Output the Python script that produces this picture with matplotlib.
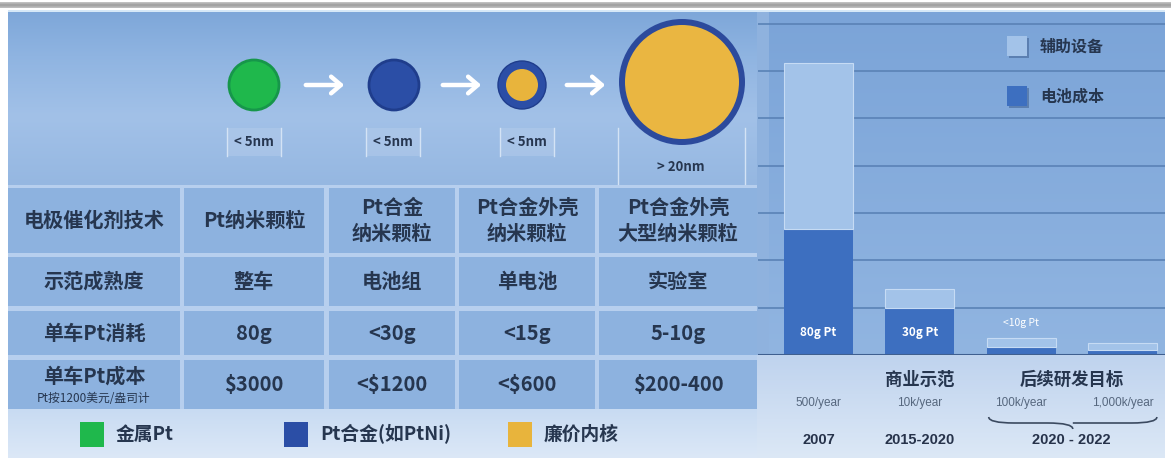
import numpy as np
import matplotlib
matplotlib.use("Agg")
import matplotlib.pyplot as plt
from matplotlib.patches import Rectangle, Circle, PathPatch, FancyArrowPatch
from matplotlib.path import Path
from matplotlib.colors import to_rgb
from matplotlib.transforms import blended_transform_factory

plt.rcParams['font.family'] = ['Noto Sans CJK SC', 'DejaVu Sans']

# ---- table content ----
row_headers = ["电极催化剂技术", "示范成熟度", "单车Pt消耗", "单车Pt成本"]
cost_note = "Pt按1200美元/盎司计"
tech_names = ["Pt纳米颗粒", "Pt合金\n纳米颗粒", "Pt合金外壳\n纳米颗粒", "Pt合金外壳\n大型纳米颗粒"]
maturity = ["整车", "电池组", "单电池", "实验室"]
pt_usage = ["80g", "<30g", "<15g", "5-10g"]
pt_cost = ["$3000", "<$1200", "<$600", "$200-400"]
particle_sizes = ["< 5nm", "< 5nm", "< 5nm", "> 20nm"]
legend_labels = ["金属Pt", "Pt合金(如PtNi)", "廉价内核"]

# ---- stacked cost bars ----
volumes = ["500/year", "10k/year", "100k/year", "1,000k/year"]
battery_cost = [80, 30, 5, 3]          # 电池成本 (g Pt scale)
aux_cost = [105, 12, 6, 4.5]           # 辅助设备
pt_bar_labels = ["80g Pt", "30g Pt", "<10g Pt", ""]
stage_labels = ["商业示范", "后续研发目标"]
period_labels = ["2007", "2015-2020", "2020 - 2022"]
bar_legend = ["辅助设备", "电池成本"]

TXT = "#26364f"
C_GREEN, C_BLUE, C_GOLD = "#1fb84c", "#2b4ea6", "#e8b43c"
C_DARKBAR, C_LIGHTBAR = "#3d6fc0", "#a3c3e9"

fig = plt.figure(figsize=(11.71, 4.63), dpi=100)
bg = fig.add_axes([0, 0, 1, 1])
bg.set_xlim(0, 1171)
bg.set_ylim(463, 0)
bg.set_autoscale_on(False)
bg.axis('off')


def vgrad(x0, x1, y0, y1, stops, z=0):
    t = np.linspace(0, 1, 256)
    pos = [p for p, _ in stops]
    cols = np.array([to_rgb(c) for _, c in stops])
    img = np.stack([np.interp(t, pos, cols[:, k]) for k in range(3)], axis=-1)[:, None, :]
    bg.imshow(img, extent=(x0, x1, y1, y0), aspect='auto', zorder=z,
              interpolation='bilinear')


# top grey rule
vgrad(0, 1171, 2, 8, [(0, "#c8c8c8"), (0.5, "#9c9c9c"), (1, "#c4c4c4")], z=0)
bg.add_patch(Rectangle((8, 10), 1157, 2, color="#d6e8f7", zorder=1, lw=0))

# left panel: particle strip
vgrad(8, 757, 12, 186, [(0, "#7ea7d9"), (0.25, "#8fb4e1"), (0.6, "#a2c1e8"), (1, "#95b7e1")], z=0)
# table backdrop and legend strip
bg.add_patch(Rectangle((8, 185), 749, 225, color="#b7cfee", zorder=1, lw=0))
vgrad(8, 757, 409, 458, [(0, "#c8dbf2"), (1, "#dce8f7")], z=1)

# right panel
vgrad(757, 1165, 12, 355, [(0, "#7ba4d8"), (1, "#91b5e1")], z=0)
vgrad(757, 1165, 355, 458, [(0, "#bfd3ee"), (1, "#dce8f6")], z=0)
bg.add_patch(Rectangle((757, 12), 12, 343, color="#8fb2de", zorder=1, lw=0))

# ---- table cells ----
col_edges = [(8, 180), (184, 324), (329, 455), (459, 595), (599, 757)]
row_edges = [(188, 253), (257, 306), (311, 355), (360, 409)]
for (y0, y1) in row_edges:
    for (x0, x1) in col_edges:
        bg.add_patch(Rectangle((x0, y0), x1 - x0, y1 - y0, color="#8db2df",
                               zorder=2, lw=0))

table_rows = [tech_names, maturity, pt_usage, pt_cost]
for r, ((y0, y1), head, vals) in enumerate(zip(row_edges, row_headers, table_rows)):
    yc = (y0 + y1) / 2
    xc0 = (col_edges[0][0] + col_edges[0][1]) / 2
    if r == 3:
        bg.text(xc0, 376, head, ha='center', va='center', fontsize=14.5,
                color=TXT, fontweight='bold', zorder=5)
        bg.text(xc0, 399, cost_note, ha='center', va='center', fontsize=8.5,
                color=TXT, zorder=5)
    else:
        bg.text(xc0, yc, head, ha='center', va='center', fontsize=14.5,
                color=TXT, fontweight='bold', zorder=5)
    for (x0, x1), v in zip(col_edges[1:], vals):
        bg.text((x0 + x1) / 2, yc, v, ha='center', va='center', fontsize=14.5,
                color=TXT, fontweight='bold', linespacing=1.3, zorder=5)

# ---- particle evolution ----
cy = 85
bg.add_patch(Circle((254, cy), 25, facecolor=C_GREEN, edgecolor="#16964a", lw=2, zorder=4))
bg.add_patch(Circle((394, cy), 25, facecolor=C_BLUE, edgecolor="#1f3d8c", lw=2, zorder=4))
bg.add_patch(Circle((522, cy), 24, facecolor=C_BLUE, edgecolor="#1f3d8c", lw=1, zorder=4))
bg.add_patch(Circle((522, cy), 16, facecolor=C_GOLD, lw=0, zorder=5))
bg.add_patch(Circle((682, 82), 63, facecolor="#2c4a9c", lw=0, zorder=4))
bg.add_patch(Circle((682, 82), 57, facecolor="#eab641", lw=0, zorder=5))

for xa, xb in [(303, 347), (440, 484), (564, 608)]:
    bg.add_patch(FancyArrowPatch((xa, cy), (xb, cy),
                                 arrowstyle='->,head_length=7,head_width=6',
                                 color='white', lw=3.2, zorder=5))

for xc, lab in zip([254, 393, 527], particle_sizes[:3]):
    bg.add_patch(Rectangle((xc - 27, 128), 54, 28, color="#b3cbeb", alpha=0.55,
                           zorder=3, lw=0))
    bg.plot([xc - 27, xc - 27], [128, 156], color="#d4e3f5", lw=1, zorder=3)
    bg.plot([xc + 27, xc + 27], [128, 156], color="#d4e3f5", lw=1, zorder=3)
    bg.text(xc, 142, lab, ha='center', va='center', fontsize=9.5, color=TXT,
            fontweight='bold', zorder=5)
bg.plot([618, 618], [128, 184], color="#d4e3f5", lw=1, zorder=3)
bg.plot([745, 745], [128, 184], color="#d4e3f5", lw=1, zorder=3)
bg.text(681, 167, particle_sizes[3], ha='center', va='center', fontsize=9.5,
        color=TXT, fontweight='bold', zorder=5)

# ---- bottom legend ----
for x0, col, lab in zip([80, 284, 508], [C_GREEN, C_BLUE, C_GOLD], legend_labels):
    bg.add_patch(Rectangle((x0, 422), 24, 25, color=col, zorder=4, lw=0))
    bg.text(x0 + 36, 434, lab, ha='left', va='center', fontsize=13.5,
            color=TXT, fontweight='bold', zorder=5)

# ---- bar chart ----
ax = fig.add_axes([758 / 1171, (463 - 355) / 463, (1165 - 758) / 1171, (355 - 12) / 463])
ax.patch.set_alpha(0)
ax.set_xlim(-0.597, 3.42)
ax.set_ylim(0, 217.5)
for s in ax.spines.values():
    s.set_visible(False)
ax.set_xticks([])
ax.set_yticks(np.arange(30, 211, 30))
ax.set_yticklabels([])
ax.tick_params(length=0)
ax.yaxis.grid(True, color="#5a82b6", lw=1.2)
ax.set_axisbelow(True)

x = np.arange(len(battery_cost))
ax.bar(x, battery_cost, width=0.68, color=C_DARKBAR, zorder=3, lw=0)
ax.bar(x, aux_cost, width=0.68, bottom=battery_cost, color=C_LIGHTBAR, zorder=3,
       edgecolor="#c6dbf4", lw=0.8)
ax.axhline(0, color="#3f5f8f", lw=2.2, zorder=4)

for i in range(2):
    ax.text(x[i], 14, f"{battery_cost[i]}g Pt", ha='center', va='center',
            fontsize=8.5, color='white', fontweight='bold', zorder=5)
ax.text(x[2], 20, pt_bar_labels[2], ha='center', va='center', fontsize=7.5,
        color='white', zorder=5)

tr = blended_transform_factory(ax.transData, bg.transData)
for i, v in enumerate(volumes):
    ax.text(x[i], 403, v, transform=tr, ha='center', va='center', fontsize=8.5,
            color="#56677e", family='Liberation Sans', clip_on=False)
ax.text(1, 380, stage_labels[0], transform=tr, ha='center', va='center',
        fontsize=12.5, color=TXT, fontweight='bold', clip_on=False)
ax.text(2.5, 380, stage_labels[1], transform=tr, ha='center', va='center',
        fontsize=12.5, color=TXT, fontweight='bold', clip_on=False)
for xp, lab in zip([0, 1, 2.5], period_labels):
    ax.text(xp, 440, lab, transform=tr, ha='center', va='center', fontsize=10.5,
            color="#26324a", fontweight='bold', family='Liberation Sans', clip_on=False)

# curly brace under the target volumes
xl, xr, xm = 1.68, 3.34, 2.51
yb0, yb1, yb2 = 417, 423, 429
verts = [(xl, yb0), (xl, yb1), (xl + 0.25, yb1), (xm - 0.25, yb1), (xm, yb1), (xm, yb2),
         (xm, yb1), (xr - 0.25, yb1), (xr, yb1), (xr, yb0)]
codes = [Path.MOVETO, Path.CURVE3, Path.CURVE3, Path.LINETO, Path.CURVE3, Path.CURVE3,
         Path.MOVETO, Path.LINETO, Path.CURVE3, Path.CURVE3]
brace = PathPatch(Path(verts, codes), transform=tr, fill=False, edgecolor="#3b4a60",
                  lw=1.2, clip_on=False)
ax.add_patch(brace)

# bar legend
for yy, col, lab in zip([36, 86], [C_LIGHTBAR, C_DARKBAR], bar_legend):
    bg.add_patch(Rectangle((1009, yy + 2), 20, 20, color="#5b7fb1", zorder=3, lw=0))
    bg.add_patch(Rectangle((1007, yy), 20, 20, color=col, zorder=4, lw=0))
    bg.text(1040, yy + 11, lab, ha='left', va='center', fontsize=11.5,
            color=TXT, fontweight='bold', zorder=5)

fig.savefig("out.png", dpi=100, facecolor='white')
